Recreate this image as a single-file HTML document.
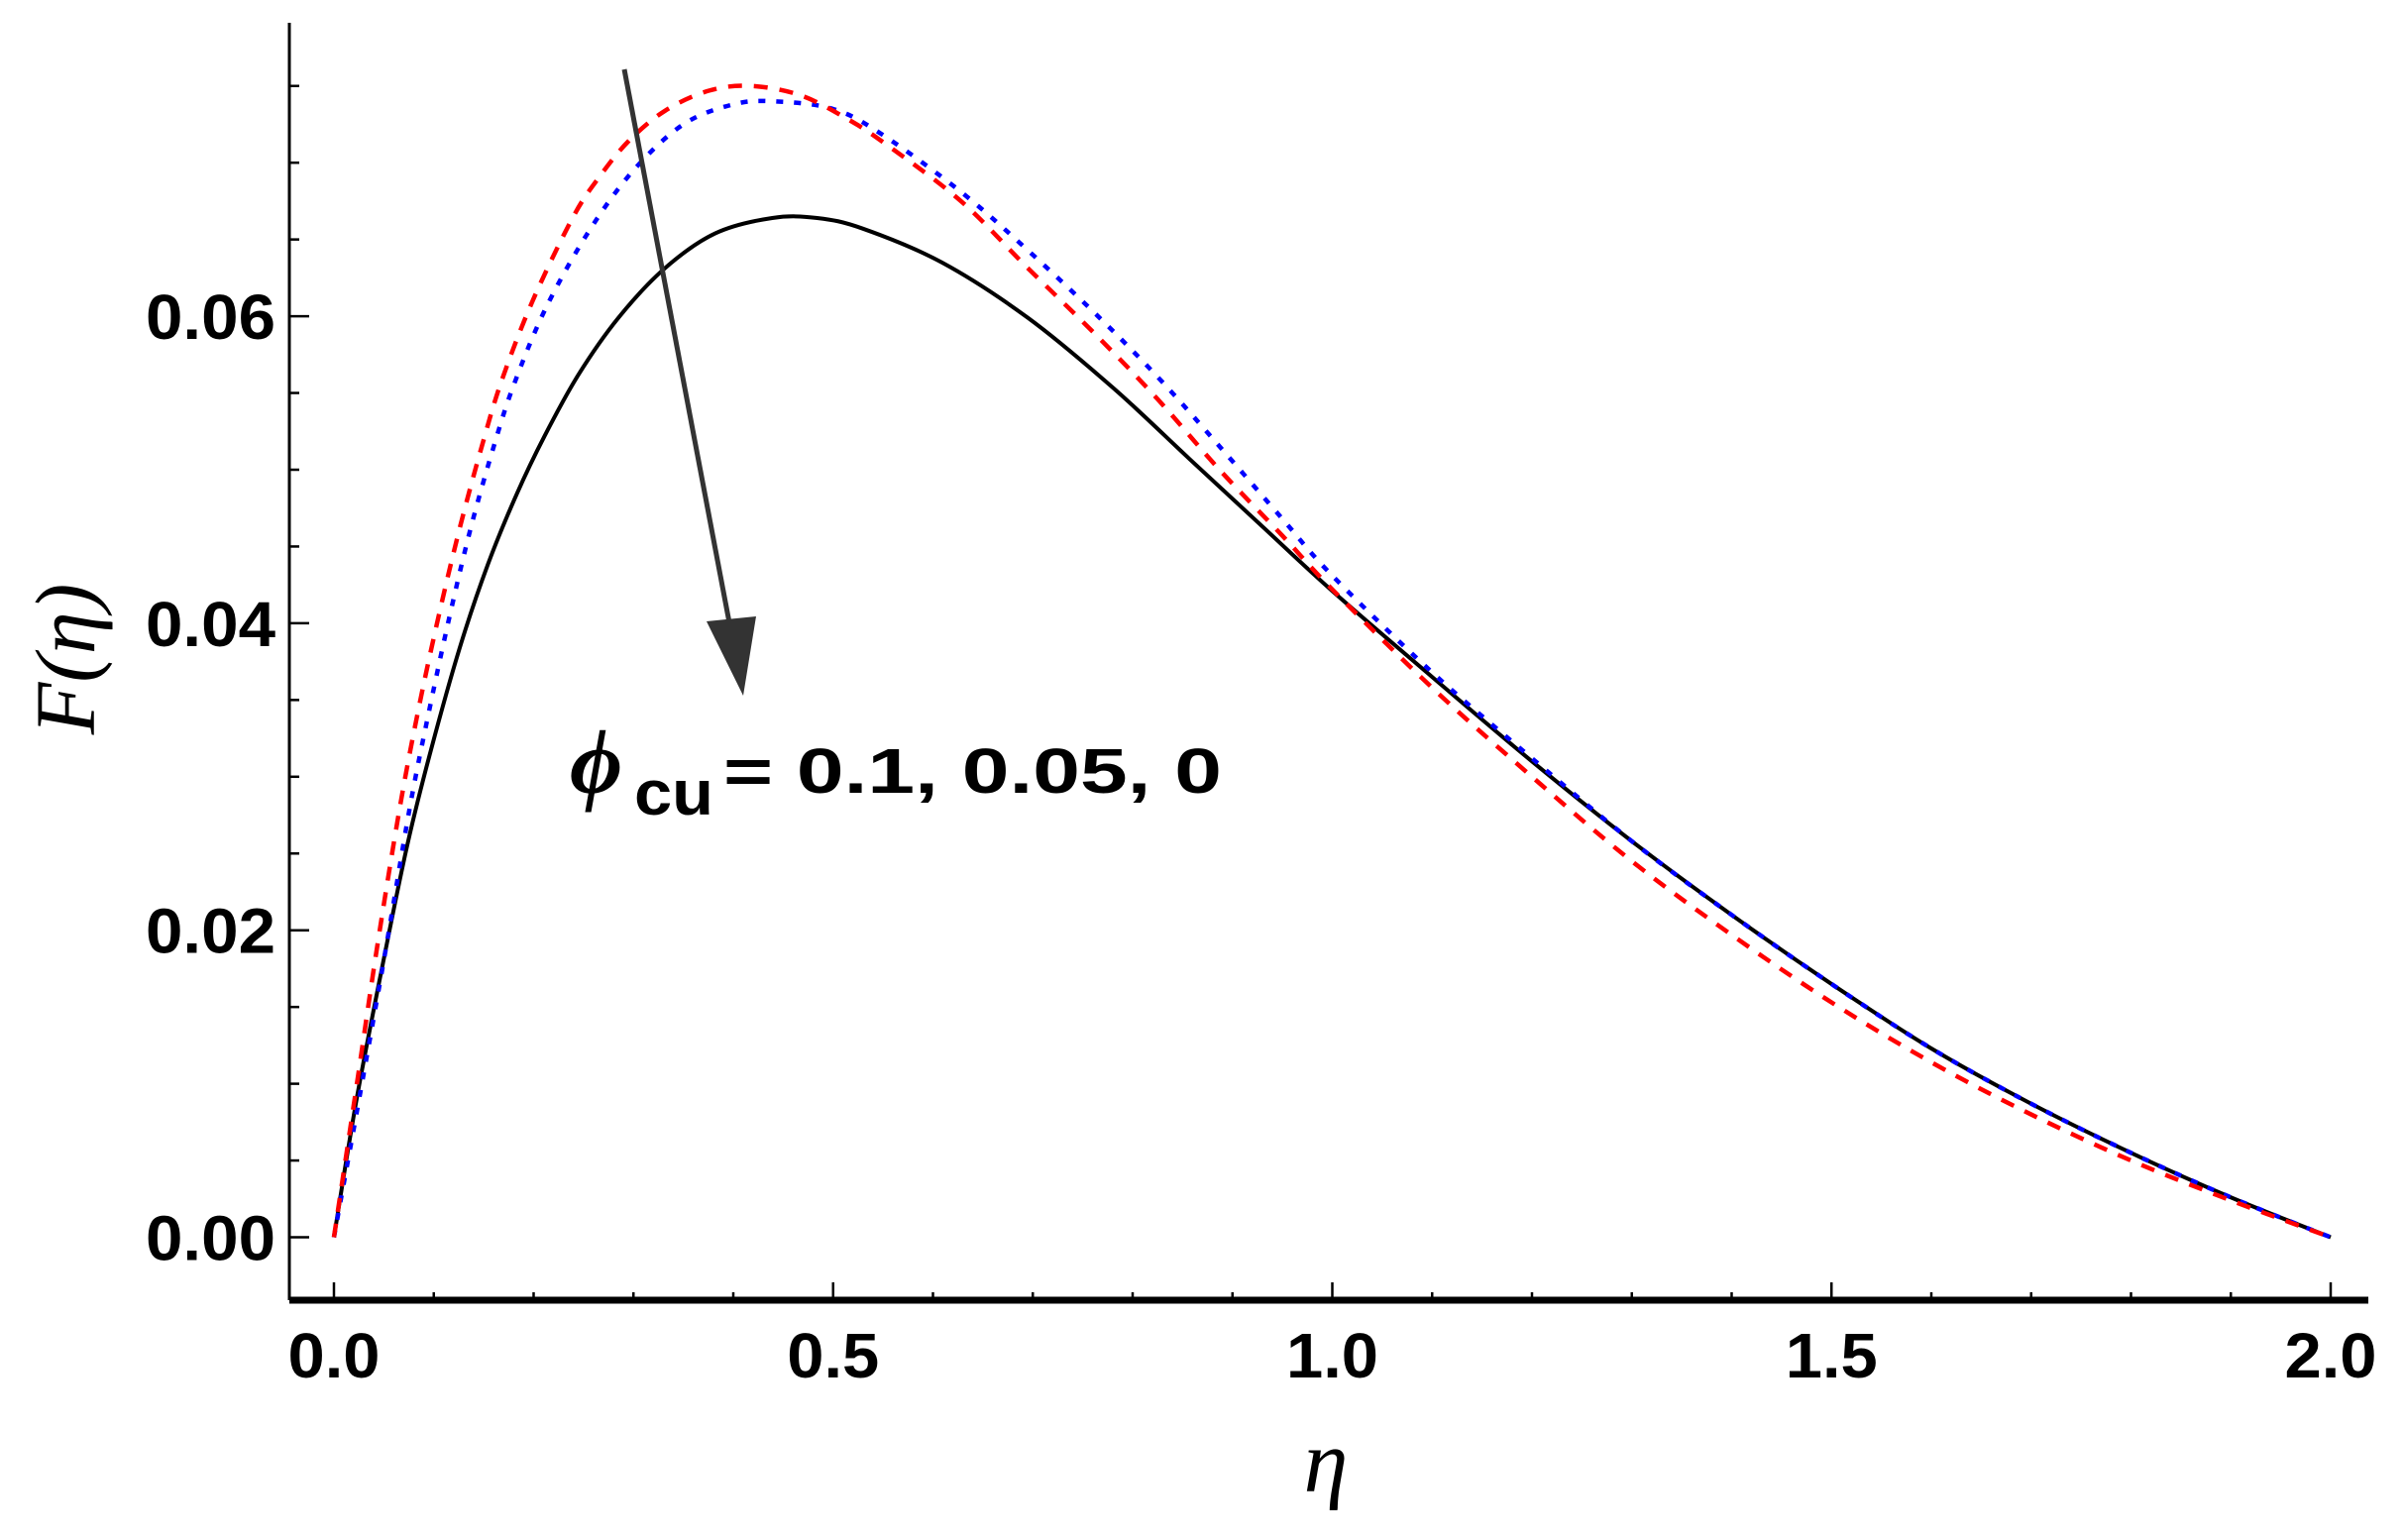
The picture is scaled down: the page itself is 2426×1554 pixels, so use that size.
<!DOCTYPE html>
<html><head><meta charset="utf-8"><style>
html,body{margin:0;padding:0;background:#fff;}
svg{display:block;}
.t{font-family:"Liberation Sans Narrow","Liberation Sans",sans-serif;font-weight:bold;font-size:64px;fill:#000;}
</style></head><body>
<svg id="s" width="2426" height="1554" viewBox="0 0 2426 1554" xmlns="http://www.w3.org/2000/svg">
<g id="axes" stroke="#000" fill="none"></g>
<g id="curves" fill="none"></g>
<line x1="630" y1="70" x2="742" y2="660" stroke="#333" stroke-width="5"/>
<polygon points="750,702 713,627 763,622" fill="#333"/>
<text x="575" y="800" font-family="Liberation Serif,serif" font-style="italic" font-weight="bold" font-size="92" fill="#000">ϕ</text>
<text x="640" y="822" class="t" font-size="70" textLength="80" lengthAdjust="spacingAndGlyphs">cu</text>
<text x="730" y="800" class="t" font-size="92" textLength="503" lengthAdjust="spacingAndGlyphs">= 0.1, 0.05, 0</text>
<text transform="translate(95,665) rotate(-90)" text-anchor="middle" font-family="Liberation Serif,serif" font-style="italic" font-size="86" fill="#000">F(η)</text>
<text x="1338" y="1505" text-anchor="middle" font-family="Liberation Serif,serif" font-style="italic" font-size="90" fill="#000">η</text>
</svg>
<script>
const NS="http://www.w3.org/2000/svg";
const X=e=>337+e*1007.5, Y=v=>1248.5-v*15490;
const ax=document.getElementById('axes'), svg=document.getElementById('s'), cv=document.getElementById('curves');
function el(tag,attrs,parent){const e=document.createElementNS(NS,tag);for(const k in attrs)e.setAttribute(k,attrs[k]);(parent||svg).appendChild(e);return e;}
el('line',{x1:292,y1:23,x2:292,y2:1312,'stroke-width':3},ax);
el('line',{x1:292,y1:1312,x2:2390,y2:1312,'stroke-width':7},ax);
for(let i=0;i<=20;i++){const x=X(i*0.1);const maj=i%5==0;el('line',{x1:x,y1:1312,x2:x,y2:maj?1294:1304,'stroke-width':2.5},ax);}
for(let i=0;i<=15;i++){const y=Y(i*0.005);const maj=i%4==0;el('line',{x1:292,y1:y,x2:maj?312:302,y2:y,'stroke-width':2.5},ax);}
['0.0','0.5','1.0','1.5','2.0'].forEach((s,i)=>{const t=el('text',{x:X(i*0.5),y:1390,'text-anchor':'middle',class:'t',textLength:93,lengthAdjust:'spacingAndGlyphs'});t.textContent=s;});
['0.00','0.02','0.04','0.06'].forEach((s,i)=>{const t=el('text',{x:147,y:Y(i*0.02)+23,class:'t',textLength:131,lengthAdjust:'spacingAndGlyphs'});t.textContent=s;});
const tail=[[1.3,0.0258],[1.4,0.021],[1.5,0.0165],[1.6,0.0123],[1.7,0.0087],[1.8,0.0055],[1.9,0.0026],[2.0,0]];
const black=[[0,0],[0.023,0.0091],[0.052,0.0188],[0.074,0.0257],[0.097,0.0317],[0.126,0.0384],[0.154,0.0438],[0.183,0.0484],[0.211,0.0522],[0.245,0.0562],[0.285,0.0599],[0.331,0.0631],[0.382,0.0654],[0.439,0.0664],[0.484,0.0664],[0.53,0.0657],[0.609,0.0635],[0.695,0.0599],[0.781,0.0553],[0.857,0.0507],[0.93,0.0463],[1.0,0.0421],[1.1,0.0365],[1.2,0.031]].concat(tail);
const red=[[0,0],[0.023,0.010],[0.043,0.0188],[0.066,0.028],[0.085,0.0345],[0.105,0.0405],[0.126,0.0462],[0.148,0.0515],[0.168,0.0558],[0.199,0.061],[0.239,0.0664],[0.265,0.069],[0.295,0.0714],[0.332,0.0734],[0.376,0.0747],[0.418,0.075],[0.467,0.0744],[0.513,0.0729],[0.553,0.0712],[0.628,0.0675],[0.694,0.0632],[0.763,0.0588],[0.825,0.0546],[0.887,0.05],[0.95,0.0457],[1.0,0.0422],[1.1,0.0358],[1.2,0.03],[1.3,0.0245],[1.4,0.0197],[1.5,0.0153],[1.6,0.0114],[1.7,0.008],[1.8,0.005],[1.9,0.0024],[2.0,0]];
const blue=[[0,0],[0.028,0.010],[0.052,0.0188],[0.076,0.028],[0.096,0.0345],[0.116,0.0405],[0.137,0.0462],[0.16,0.0515],[0.18,0.0555],[0.212,0.0605],[0.255,0.0655],[0.3,0.0695],[0.35,0.0725],[0.4,0.0738],[0.44,0.074],[0.5,0.0735],[0.55,0.0718],[0.63,0.068],[0.7,0.064],[0.77,0.0597],[0.83,0.0557],[0.89,0.0513],[0.95,0.0468],[1.0,0.0431],[1.1,0.0368],[1.2,0.0312]].concat(tail);
function path(pts){const p=pts.map(q=>[X(q[0]),Y(q[1])]);let d='M'+p[0][0]+','+p[0][1];
for(let i=0;i<p.length-1;i++){const p0=p[Math.max(0,i-1)],p1=p[i],p2=p[i+1],p3=p[Math.min(p.length-1,i+2)];
d+=' C'+(p1[0]+(p2[0]-p0[0])/6)+','+(p1[1]+(p2[1]-p0[1])/6)+' '+(p2[0]-(p3[0]-p1[0])/6)+','+(p2[1]-(p3[1]-p1[1])/6)+' '+p2[0]+','+p2[1];}return d;}
el('path',{d:path(black),stroke:'#000','stroke-width':4},cv);
el('path',{d:path(blue),stroke:'#0000ff','stroke-width':4.5,'stroke-dasharray':'7 11'},cv);
el('path',{d:path(red),stroke:'#ff0000','stroke-width':4.5,'stroke-dasharray':'14 12'},cv);
</script>
</body></html>
